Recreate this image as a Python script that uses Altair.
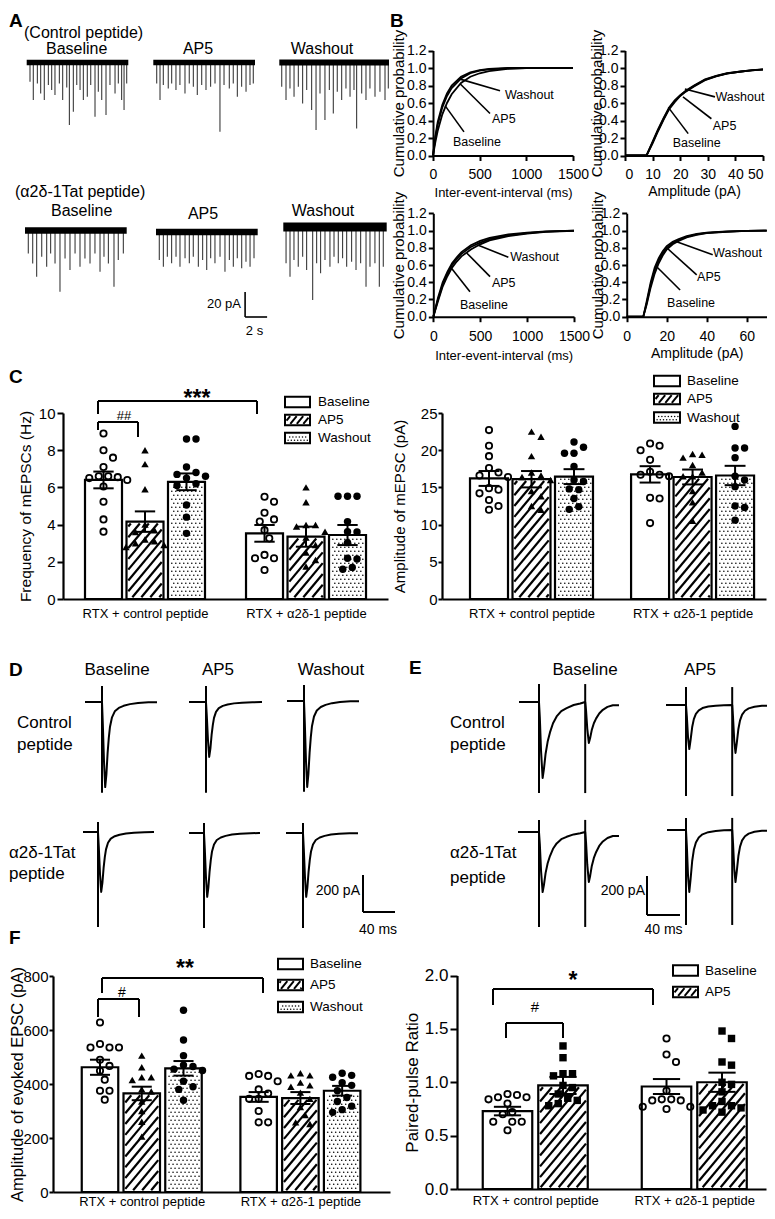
import altair as alt
import pandas as pd

# =========================== values ===========================
# ---- A: miniature EPSC events (time in s, amplitude in pA) ----
A_CTRL_BASE_T = [0.30, 0.60, 0.97, 1.27, 1.60, 1.97, 2.27, 2.57, 2.97, 3.27, 3.64, 3.88, 4.24, 4.55,
                 4.85, 5.15, 5.51, 5.82, 6.21, 6.51, 6.82, 7.21, 7.57, 8.03, 8.33, 8.63, 8.85, 9.09]
A_CTRL_BASE_A = [15.3, 30, 16.7, 24.7, 30, 18, 22, 26, 16.7, 30, 19.9, 50, 39.3, 18,
                 22, 30, 27.3, 18, 43.3, 23.3, 30, 42, 18, 24.7, 16.7, 30, 38, 16.7]
A_CTRL_AP5_T = [0.31, 0.61, 0.91, 1.36, 1.67, 2.06, 2.42, 2.88, 3.27, 3.64, 4.0, 4.4, 4.79, 5.21,
                5.61, 6.06, 6.43, 6.91, 7.27, 7.64, 8.03, 8.43, 8.79, 9.09]
A_CTRL_AP5_A = [16.7, 30, 18, 20.7, 16.7, 22, 18, 24.7, 16.7, 19.3, 26, 18, 22, 19.3,
                16.7, 55.3, 18, 20.7, 16.7, 27.3, 19.3, 23.3, 18, 16.7]
A_CTRL_WASH_T = [0.22, 0.61, 0.97, 1.34, 1.73, 2.12, 2.49, 2.94, 3.34, 3.70, 4.15, 4.55, 4.91, 5.27,
                 5.67, 6.06, 6.43, 6.79, 7.03, 7.49, 7.88, 8.24, 8.70, 9.15, 9.61, 9.91]
A_CTRL_WASH_A = [19.3, 30, 20.7, 27.3, 19.3, 32.7, 22, 38, 54, 24.7, 46, 22, 40.7, 23.3,
                 30, 20.7, 27.3, 22, 52.7, 24.7, 30, 20.7, 27.3, 23.3, 30, 20.7]
A_TAT_BASE_T = [0.30, 0.70, 1.06, 1.52, 1.97, 2.33, 2.73, 3.18, 3.64, 4.09, 4.55, 5.0, 5.45, 5.91,
                6.36, 6.82, 7.18, 7.58, 8.09, 8.48, 8.94]
A_TAT_BASE_A = [18.3, 26.3, 37, 21, 29, 18.3, 26.3, 49, 22.3, 31.6, 18.3, 29, 22.3, 26.3,
                18.3, 33, 21, 26.3, 45, 23.6, 18.3]
A_TAT_AP5_T = [0.30, 0.67, 1.03, 1.42, 1.82, 2.18, 2.64, 3.03, 3.39, 3.85, 4.24, 4.61, 4.97, 5.36,
               5.82, 6.27, 6.67, 7.03, 7.39, 7.79, 8.18, 8.55, 8.91]
A_TAT_AP5_A = [22.4, 27.7, 19.7, 25, 19.7, 27.7, 21, 25, 19.7, 27.7, 22.4, 30.4, 21, 25,
               19.7, 31.7, 22.4, 27.7, 21, 29, 23.7, 27.7, 21]
A_TAT_WASH_T = [0.25, 0.61, 0.97, 1.36, 1.76, 2.12, 2.67, 3.03, 3.39, 3.79, 4.24, 4.61, 5.0, 5.39,
                5.76, 6.21, 6.61, 7.03, 7.52, 7.88, 8.33, 8.73, 9.09]
A_TAT_WASH_A = [29, 39.7, 26.4, 31.7, 23.7, 34.4, 58.4, 29, 37, 26.4, 31.7, 23.7, 29, 25,
                31.7, 27.7, 34.4, 29, 47.7, 31.7, 29, 47.7, 31.7]
A_NOISE_PA = [2.2, 2.2, 2.4, 2.6, 2.6, 3.6]

# ---- B: cumulative probability curves ----
B1_X = [0, 25, 50, 100, 150, 200, 300, 400, 500, 600, 800, 1000, 1500]
B1_BASE = [0, 0.22, 0.38, 0.58, 0.71, 0.80, 0.90, 0.95, 0.975, 0.99, 1.0, 1.0, 1.0]
B1_AP5 = [0, 0.15, 0.28, 0.47, 0.60, 0.70, 0.83, 0.90, 0.94, 0.965, 0.99, 1.0, 1.0]
B1_WASH = [0, 0.20, 0.35, 0.55, 0.68, 0.77, 0.88, 0.94, 0.97, 0.985, 0.995, 1.0, 1.0]
B2_X = [0, 7.8, 10, 12, 14, 16, 18, 20, 22, 25, 29, 33, 37, 42, 46, 50]
B2_BASE = [0, 0, 0.16, 0.30, 0.43, 0.55, 0.63, 0.69, 0.74, 0.80, 0.87, 0.91, 0.94, 0.96, 0.975, 0.985]
B2_AP5 = [0, 0, 0.14, 0.28, 0.41, 0.53, 0.61, 0.68, 0.73, 0.79, 0.86, 0.905, 0.935, 0.958, 0.972, 0.982]
B2_WASH = [0, 0, 0.15, 0.29, 0.42, 0.54, 0.62, 0.685, 0.735, 0.795, 0.865, 0.908, 0.938, 0.96, 0.974, 0.984]
B3_X = [0, 50, 100, 150, 200, 250, 300, 400, 500, 600, 800, 1000, 1200, 1500]
B3_BASE = [0, 0.22, 0.40, 0.52, 0.62, 0.69, 0.75, 0.83, 0.88, 0.915, 0.955, 0.975, 0.99, 1.0]
B3_AP5 = [0, 0.18, 0.35, 0.47, 0.57, 0.64, 0.70, 0.78, 0.84, 0.885, 0.935, 0.965, 0.985, 0.995]
B3_WASH = [0, 0.20, 0.37, 0.50, 0.60, 0.67, 0.73, 0.81, 0.86, 0.90, 0.945, 0.97, 0.988, 0.998]
B4_X = [0, 8.3, 10, 12, 14, 16, 18, 20, 23, 26, 30, 35, 40, 50, 60, 70]
B4_BASE = [0, 0, 0.18, 0.40, 0.57, 0.68, 0.76, 0.82, 0.87, 0.90, 0.935, 0.96, 0.975, 0.99, 0.997, 1.0]
B4_AP5 = [0, 0, 0.14, 0.34, 0.50, 0.62, 0.71, 0.78, 0.84, 0.88, 0.92, 0.95, 0.97, 0.985, 0.995, 1.0]
B4_WASH = [0, 0, 0.16, 0.37, 0.54, 0.65, 0.735, 0.80, 0.855, 0.89, 0.928, 0.955, 0.972, 0.988, 0.996, 1.0]
SERIES = ["Baseline", "AP5", "Washout"]

# ---- C / F: bar charts (group x condition) ----
GROUPS = ["RTX + control peptide", "RTX + α2δ-1 peptide"]
C_FREQ_MEAN = [[6.4, 4.16, 6.3], [3.53, 3.35, 3.44]]
C_FREQ_SEM = [[0.45, 0.55, 0.45], [0.45, 0.54, 0.54]]
C_FREQ_PTS = [
    [[8.9, 8.0, 7.6, 7.1, 6.6, 6.6, 6.55, 6.5, 6.4, 6.05, 5.23, 4.28, 3.62],
     [8.0, 7.25, 5.9, 4.0, 3.7, 3.6, 3.2, 3.1, 3.0, 2.9, 2.8],
     [8.6, 8.6, 7.1, 6.8, 6.7, 6.6, 6.5, 6.2, 6.1, 5.05, 4.4, 3.53]],
    [[5.5, 5.23, 4.64, 4.28, 4.16, 3.7, 3.26, 2.37, 2.19, 2.19, 1.56],
     [6.0, 5.2, 3.98, 3.98, 3.9, 3.62, 3.3, 2.9, 2.5, 2.1, 1.75],
     [5.52, 5.52, 5.52, 4.16, 3.62, 3.6, 3.03, 2.19, 2.15, 1.7, 1.6]]]
C_AMP_MEAN = [[16.2, 16.1, 16.45], [16.75, 16.4, 16.6]]
C_AMP_SEM = [[1.0, 1.1, 1.0], [1.1, 1.0, 1.3]]
C_AMP_PTS = [
    [[22.7, 20.6, 19.2, 17.6, 17.0, 16.6, 16.4, 14.9, 14.7, 14.2, 13.3, 12.5, 12.0],
     [22.5, 21.8, 19.2, 17.0, 16.6, 16.4, 16.0, 14.5, 13.8, 12.5, 12.0],
     [21.1, 20.4, 19.6, 19.6, 17.8, 16.0, 15.8, 14.8, 14.7, 13.5, 12.4, 12.05]],
    [[20.9, 20.6, 20.0, 18.7, 17.1, 16.7, 16.7, 16.5, 13.6, 13.5, 10.2],
     [19.4, 19.5, 19.0, 18.0, 17.0, 16.5, 16.5, 14.5, 13.0, 10.5],
     [23.2, 20.3, 20.3, 19.0, 16.5, 16.0, 15.1, 12.3, 12.5, 10.6]]]
F_EPSC_MEAN = [[462, 365, 458], [352, 348, 375]]
F_EPSC_SEM = [[28, 25, 27], [18, 22, 18]]
F_EPSC_PTS = [
    [[628, 548, 535, 535, 535, 490, 467, 449, 416, 375, 375, 342],
     [505, 462, 425, 425, 415, 380, 372, 335, 300, 260, 205],
     [673, 563, 505, 470, 465, 455, 450, 410, 390, 380, 340]],
    [[437, 430, 430, 410, 380, 365, 345, 345, 300, 258, 258],
     [440, 432, 432, 405, 395, 390, 368, 345, 315, 285, 258, 252],
     [440, 432, 425, 405, 395, 375, 350, 335, 318, 305, 295]]]
F_PPR_MEAN = [[0.73, 0.97], [0.96, 1.0]]
F_PPR_SEM = [[0.04, 0.08], [0.07, 0.09]]
F_PPR_PTS = [
    [[0.89, 0.88, 0.86, 0.86, 0.84, 0.80, 0.72, 0.70, 0.63, 0.63, 0.63, 0.55],
     [1.34, 1.23, 1.08, 1.08, 1.06, 0.97, 0.95, 0.89, 0.85, 0.83, 0.80, 0.78]],
    [[1.41, 1.26, 1.19, 0.92, 0.84, 0.84, 0.83, 0.83, 0.77, 0.77, 0.75],
     [1.48, 1.41, 1.19, 1.16, 1.0, 0.98, 0.91, 0.82, 0.78, 0.78, 0.76, 0.74, 0.72]]]

# ---- D / E: evoked EPSC waveforms (normalised shapes, ms) and peak amplitudes (pA) ----
D_TPL_T = [0, 1, 2.5, 4, 5.5, 7, 8.5, 10, 12.5, 16, 21, 27, 35, 45, 58, 69]
D_TPL_V = [0, -0.25, -0.7, -1.0, -0.85, -0.6, -0.42, -0.29, -0.18, -0.11, -0.07, -0.045, -0.025, -0.012, -0.004, 0]
E_SLOW_T = [0, 1, 2.5, 4.4, 6, 8, 10.5, 13.3, 17, 21.4, 27, 33.5, 42, 50, 56]
E_SLOW_V = [0, -0.2, -0.65, -1.0, -0.88, -0.68, -0.52, -0.4, -0.28, -0.19, -0.12, -0.08, -0.04, -0.02, 0]
E_FAST_T = [0, 1, 2.5, 4, 5.5, 7.5, 9.5, 12, 15.5, 20, 27, 36, 46, 56]
E_FAST_V = [0, -0.25, -0.75, -1.0, -0.8, -0.5, -0.32, -0.2, -0.12, -0.07, -0.035, -0.015, -0.005, 0]
D_AMPS = [[460, 297, 465], [324, 345, 345]]
E_AMPS = [[[390, 210], [226, 246]], [[308, 256], [318, 267]]]
E_INTERVAL_MS = 56
D_ARTIFACT = [(86, 490), (54, 513)]
E_ARTIFACT = [(92, 467), (62, 487)]

# =========================== layout (pixels of the page) ===========================
W, H, M = 759, 1203, 8
FONT = "Liberation Sans"


def lin(d0, d1, p0, p1):
    return alt.Scale(domain=[d0, d1], range=[p0 - M, p1 - M], nice=False, zero=False)


OXS = lin(M, W + M, M, W + M)
OYS = lin(M, H + M, M, H + M)
AXB = dict(grid=False, domainColor="black", tickColor="black", labelColor="black", titleColor="black",
           labelFont=FONT, titleFont=FONT, titleFontWeight="normal", labelOverlap=False)


def OX(f):
    return alt.X(f, scale=OXS, axis=None)


def OY(f):
    return alt.Y(f, scale=OYS, axis=None)


def enc_x(f, sc, ax=None):
    # layers sharing a panel's axis leave `axis` unset so that the explicit axis is kept
    return alt.X(f, scale=sc) if ax is None else alt.X(f, scale=sc, axis=ax)


def enc_y(f, sc, ax=None):
    return alt.Y(f, scale=sc) if ax is None else alt.Y(f, scale=sc, axis=ax)


def hatch_px(x0, x1, ytop, ybot, step=9.0, slope=1.2):
    segs = []
    per = step * slope
    cmin = ytop + slope * x0
    cmax = ybot + slope * x1
    c = cmin - (cmin % per)
    while c <= cmax:
        xa = max(x0, (c - ybot) / slope)
        xb = min(x1, (c - ytop) / slope)
        if xb - xa > 0.4:
            segs.append((xa, c - slope * xa, xb, c - slope * xb))
        c += per
    return segs


def dots_px(x0, x1, ytop, ybot, step=4.0):
    pts, row = [], 0
    y = ybot - step / 2
    while y > ytop:
        x = x0 + step / 2 + (step / 2 if row % 2 else 0)
        while x < x1:
            pts.append((x, y))
            x += step
        y -= step
        row += 1
    return pts


def swarm(pys, d):
    res = [0.0] * len(pys)
    placed = []
    cands = [0.0]
    for j in range(1, 14):
        cands += [j * d / 2, -j * d / 2]
    for i in sorted(range(len(pys)), key=lambda i: pys[i]):
        y = pys[i]
        for c in cands:
            if all((c - px) ** 2 + (y - py) ** 2 >= (0.98 * d) ** 2 for px, py in placed):
                res[i] = c
                placed.append((c, y))
                break
    return res


# ---------------- A: mEPSC traces ----------------
A_EVENTS = [(A_CTRL_BASE_T, A_CTRL_BASE_A), (A_CTRL_AP5_T, A_CTRL_AP5_A), (A_CTRL_WASH_T, A_CTRL_WASH_A),
            (A_TAT_BASE_T, A_TAT_BASE_A), (A_TAT_AP5_T, A_TAT_AP5_A), (A_TAT_WASH_T, A_TAT_WASH_A)]
A_BOX = [(26.7, 128.3, 62.5), (153.3, 255.0, 62.5), (279.3, 389.0, 62.5),
         (25.0, 126.7, 230.5), (156.0, 257.7, 232.0), (283.3, 386.7, 227.0)]
A_PX_S, A_PX_PA = 11.0, 1.25
A_SCALEBAR = (4, 8.1, -68.0)


def trace_a(k):
    ts, amps = A_EVENTS[k]
    x0, x1, yb = A_BOX[k]
    dur = (x1 - x0) / A_PX_S
    xs = lin(0, dur, x0, x1)
    ys = lin(-100, 20, yb + 100 * A_PX_PA, yb - 20 * A_PX_PA)
    X = lambda f: alt.X(f, scale=xs, axis=None)
    Y = lambda f: alt.Y(f, scale=ys, axis=None)
    n = A_NOISE_PA[k]
    band = pd.DataFrame({"a": [0.0], "b": [dur], "lo": [-n], "hi": [n]})
    ev = pd.DataFrame({"t": ts, "lo": [-a for a in amps], "hi": [0.0] * len(ts)})
    layers = [
        alt.Chart(ev).mark_rule(color="#3a3a3a", strokeWidth=1.1).encode(x=X("t:Q"), y=Y("lo:Q"), y2="hi:Q"),
        alt.Chart(band).mark_rect(color="black").encode(x=X("a:Q"), x2="b:Q", y=Y("lo:Q"), y2="hi:Q"),
    ]
    if k == A_SCALEBAR[0]:
        t0, v0 = A_SCALEBAR[1], A_SCALEBAR[2]
        sb = pd.DataFrame({"x": [t0, t0], "y": [v0, v0], "x2": [t0, t0 + 2], "y2": [v0 + 20, v0]})
        layers.append(alt.Chart(sb).mark_rule(color="black", strokeWidth=1.6).encode(
            x=X("x:Q"), y=Y("y:Q"), x2="x2:Q", y2="y2:Q"))
    return alt.layer(*layers)


# ---------------- B: cumulative plots ----------------
B_YTICKS = [0.0, 0.2, 0.4, 0.6, 0.8, 1.0, 1.2]


def cdf_panel(xv, curves, xdom, xpx, ypx, xticks, xtitle, xtsize, xt_dy, yt_dx, lab_pad, leaders, flush=False):
    xs = lin(xdom[0], xdom[1], xpx[0], xpx[1])
    ys = lin(0, 1.2, ypx[0], ypx[1])
    X = lambda f, ax=None: enc_x(f, xs, ax)
    Y = lambda f, ax=None: enc_y(f, ys, ax)
    rows = [dict(x=a, y=b, s=name) for name, vals in zip(SERIES, curves) for a, b in zip(xv, vals)]
    xax = alt.Axis(orient="bottom", offset=(ypx[0] - M) - H, values=xticks, format="d", tickSize=5,
                   tickWidth=2, domainWidth=2, labelFontSize=14, labelPadding=lab_pad, title=xtitle,
                   titleFontSize=xtsize, titleY=xt_dy, titleBaseline="middle", labelFlush=flush, **AXB)
    yax = alt.Axis(orient="left", offset=-(xpx[0] - M), values=B_YTICKS, format=".1f", tickSize=5,
                   tickWidth=2, domainWidth=2, labelFontSize=14, labelPadding=2, labelFlush=False,
                   title="Cumulative probability", titleFontSize=15, titleX=yt_dx,
                   titleBaseline="middle", **AXB)
    lines = alt.Chart(pd.DataFrame(rows)).mark_line(color="black", strokeWidth=1.8).encode(
        x=X("x:Q", xax), y=Y("y:Q", yax), detail="s:N")
    ld = pd.DataFrame([dict(x=a, y=b, x2=c, y2=d) for _, a, b, c, d, _, _ in leaders])
    lt = pd.DataFrame([dict(x=e, y=f, t=n) for n, _, _, _, _, e, f in leaders])
    lead = alt.Chart(ld).mark_rule(color="black", strokeWidth=1.6).encode(
        x=X("x:Q"), y=Y("y:Q"), x2="x2:Q", y2="y2:Q")
    labs = alt.Chart(lt).mark_text(font=FONT, fontSize=12.5, align="left", baseline="middle",
                                   color="black").encode(x=X("x:Q"), y=Y("y:Q"), text="t:N")
    return alt.layer(lines, lead, labs)


# ---------------- C / F: bar charts ----------------
def marker_chart(df, m, X, Y):
    if m == "open":
        ch = alt.Chart(df).mark_point(shape="circle", filled=False, color="black", size=40,
                                      strokeWidth=1.8, opacity=1)
    elif m == "tri":
        ch = alt.Chart(df).mark_point(shape="triangle-up", filled=True, color="black", size=55, opacity=1)
    elif m == "dot":
        ch = alt.Chart(df).mark_circle(color="black", size=55, opacity=1)
    else:
        ch = alt.Chart(df).mark_square(color="black", size=55, opacity=1)
    return ch.encode(x=X("x:Q"), y=Y("y:Q"))


def bar_panel(G, means, sems, pts, fills, marks, yax_kw, xpad):
    n = len(fills)
    pitch, c1 = G["pitch"], G["c1"]
    p2s = lambda px: 1 + (px - c1) / pitch
    s2p = lambda s: c1 + (s - 1) * pitch
    kv = (G["ay0"] - G["ay1"]) / G["vmax"]
    v2p = lambda v: G["ay0"] - v * kv
    p2v = lambda py: (G["ay0"] - py) / kv
    xs = lin(p2s(G["ax0"]), p2s(G["ax1"]), G["ax0"], G["ax1"])
    ys = lin(0, G["vmax"], G["ay0"], G["ay1"])
    X = lambda f, ax=None: enc_x(f, xs, ax)
    Y = lambda f, ax=None: enc_y(f, ys, ax)
    hw = G["bw"] / 2 / pitch
    cw = 0.55 * G["bw"] / 2 / pitch
    offs = [0.0, G["g2"]]
    bars, segs, dots, errs, caps = [], [], [], [], []
    mrows = {m: [] for m in marks}
    for g in range(2):
        for k in range(n):
            c = offs[g] + k + 1
            m, s = means[g][k], sems[g][k]
            bars.append(dict(x=c - hw, x2=c + hw, y=0.0, y2=m))
            cx = s2p(c)
            inner = (cx - G["bw"] / 2 + 1.8, cx + G["bw"] / 2 - 1.8, v2p(m) + 1.8, G["ay0"] - 1.8)
            if fills[k] == "hatch":
                for xa, ya, xb, yb in hatch_px(*inner):
                    segs.append(dict(x=p2s(xa), y=p2v(ya), x2=p2s(xb), y2=p2v(yb)))
            elif fills[k] == "dots":
                for qx, qy in dots_px(*inner):
                    dots.append(dict(x=p2s(qx), y=p2v(qy)))
            errs.append(dict(x=c, y=m - s, y2=m + s))
            caps.append(dict(x=c - cw, x2=c + cw, y=m + s))
            caps.append(dict(x=c - cw, x2=c + cw, y=m - s))
            vals = pts[g][k]
            dx = swarm([v2p(v) for v in vals], 9.5)
            for v, d in zip(vals, dx):
                mrows[marks[k]].append(dict(x=c + d / pitch, y=v))
    centers = [offs[0] + (n + 1) / 2, offs[1] + (n + 1) / 2]
    thr = sum(centers) / 2
    xax = alt.Axis(orient="bottom", offset=(G["ay0"] - M) - H, values=centers,
                   labelExpr=f"datum.value < {thr} ? '{GROUPS[0]}' : '{GROUPS[1]}'",
                   ticks=False, tickSize=0, domainWidth=2.2, labelFontSize=13, labelPadding=xpad,
                   labelFlush=False, title=None, **AXB)
    yax = alt.Axis(orient="left", offset=-(G["ax0"] - M), tickWidth=2, domainWidth=2.2,
                   titleBaseline="middle", labelFlush=False, **yax_kw, **AXB)
    layers = [alt.Chart(pd.DataFrame(bars)).mark_rect(fill="white", stroke="black", strokeWidth=2.2).encode(
        x=X("x:Q", xax), x2="x2:Q", y=Y("y:Q", yax), y2="y2:Q")]
    if segs:
        layers.append(alt.Chart(pd.DataFrame(segs)).mark_rule(color="black", strokeWidth=2.2).encode(
            x=X("x:Q"), y=Y("y:Q"), x2="x2:Q", y2="y2:Q"))
    if dots:
        layers.append(alt.Chart(pd.DataFrame(dots)).mark_circle(color="black", size=2.5, opacity=1).encode(
            x=X("x:Q"), y=Y("y:Q")))
    layers.append(alt.Chart(pd.DataFrame(errs)).mark_rule(color="black", strokeWidth=2).encode(
        x=X("x:Q"), y=Y("y:Q"), y2="y2:Q"))
    layers.append(alt.Chart(pd.DataFrame(caps)).mark_rule(color="black", strokeWidth=2).encode(
        x=X("x:Q"), x2="x2:Q", y=Y("y:Q")))
    for mk, rows in mrows.items():
        layers.append(marker_chart(pd.DataFrame(rows), mk, X, Y))
    return alt.layer(*layers)


C_L = dict(ax0=63, ax1=388, ay0=599, ay1=413, vmax=10, c1=103.5, pitch=41.5, g2=3.88, bw=37)
C_R = dict(ax0=442, ax1=766, ay0=599, ay1=413, vmax=25, c1=489, pitch=42.5, g2=3.79, bw=38)
F_L = dict(ax0=53, ax1=390, ay0=1192, ay1=976, vmax=800, c1=100, pitch=41.75, g2=3.8, bw=36.5)
F_R = dict(ax0=457, ax1=766, ay0=1189, ay1=975.5, vmax=2.0, c1=507.5, pitch=55.5, g2=2.865, bw=49.5)


# ---------------- D / E: evoked traces ----------------
def evoked(layout, kx, ky, tpl, amps, interval, art, scalebar=None):
    start, stim, end, base = layout
    tpl_t, tpl_v = tpl
    xs = lin(-100, 200, stim - 100 * kx, stim + 200 * kx)
    ys = lin(-800, 200, base + 800 * ky, base - 200 * ky)
    X = lambda f: alt.X(f, scale=xs, axis=None)
    Y = lambda f: alt.Y(f, scale=ys, axis=None)
    pre, post = (stim - start) / kx, (end - stim) / kx
    tt, vv = [-pre, 0.0], [0.0, 0.0]
    for i, a in enumerate(amps):
        s0 = i * interval
        for t, f in zip(tpl_t, tpl_v):
            if s0 + t > post or (i + 1 < len(amps) and t > interval):
                break
            tt.append(s0 + t)
            vv.append(a * f)
    if tt[-1] < post:
        tt.append(post)
        vv.append(vv[-1])
    df = pd.DataFrame({"t": tt, "v": vv, "o": list(range(len(tt)))})
    arts = pd.DataFrame({"t": [i * interval for i in range(len(amps))],
                         "hi": [art[0]] * len(amps), "lo": [-art[1]] * len(amps)})
    layers = [
        alt.Chart(arts).mark_rule(color="black", strokeWidth=2).encode(x=X("t:Q"), y=Y("lo:Q"), y2="hi:Q"),
        alt.Chart(df).mark_line(color="black", strokeWidth=2, strokeJoin="round").encode(
            x=X("t:Q"), y=Y("v:Q"), order="o:Q"),
    ]
    if scalebar is not None:
        t0, v0 = scalebar
        sb = pd.DataFrame({"x": [t0, t0], "y": [v0, v0], "x2": [t0, t0 + 40], "y2": [v0 + 200, v0]})
        layers.append(alt.Chart(sb).mark_rule(color="black", strokeWidth=2).encode(
            x=X("x:Q"), y=Y("y:Q"), x2="x2:Q", y2="y2:Q"))
    return alt.layer(*layers)


D_LAYOUT = [[(85, 102, 157, 702), (189, 206, 262, 702), (287, 304, 359, 701)],
            [(83, 98, 154, 832), (189, 204, 260, 833), (286, 303, 358, 833)]]
E_LAYOUT = [[(519, 539, 619, 702), (666, 686, 767, 705)],
            [(518, 539, 619, 832), (667, 686, 767, 830)]]
D_KX, D_KY = 0.8, 0.185
E_KX, E_KY = 0.825, 0.195

# ---------------- overlay (labels, legends, brackets) ----------------
ov = []


def add_text(items, size, align="left", weight="normal", baseline="alphabetic"):
    df = pd.DataFrame(items, columns=["x", "y", "t"])
    ov.append(alt.Chart(df).mark_text(font=FONT, fontSize=size, align=align, baseline=baseline,
                                      fontWeight=weight, color="black").encode(
        x=OX("x:Q"), y=OY("y:Q"), text="t:N"))


add_text([(9, 27, "A"), (390, 27, "B"), (9, 383, "C"), (9, 676, "D"), (409, 674, "E"), (9, 944, "F")],
         19, weight="bold")
add_text([(24, 38, "(Control peptide)"), (15, 197, "(α2δ-1Tat peptide)")], 16)
add_text([(76.7, 54, "Baseline"), (198, 54, "AP5"), (322, 54, "Washout"),
          (81.7, 216, "Baseline"), (203, 219, "AP5"), (323, 216, "Washout")], 16, align="center")
add_text([(241, 308, "20 pA")], 13, align="right")
add_text([(254.5, 335, "2 s")], 13, align="center")
add_text([(117, 675, "Baseline"), (218, 675, "AP5"), (331, 675, "Washout"),
          (585, 675, "Baseline"), (700, 675, "AP5")], 17, align="center")
add_text([(17, 728, "Control"), (17, 750, "peptide"), (9, 858, "α2δ-1Tat"), (9, 879, "peptide"),
          (450, 728, "Control"), (450, 750, "peptide"), (450, 858, "α2δ-1Tat"), (450, 883, "peptide")], 17)
add_text([(360, 895, "200 pA"), (645, 895, "200 pA")], 14, align="right")
add_text([(378, 934, "40 ms"), (663.5, 934, "40 ms")], 14, align="center")

LEGENDS = [  # (box x0, box x1, y centres, text x, fills)
    (285, 310, [402, 420, 438], 318, ["white", "hatch", "dots"]),
    (654, 680, [381, 399, 417.5], 687, ["white", "hatch", "dots"]),
    (278, 303, [964, 985, 1007], 310, ["white", "hatch", "dots"]),
    (673, 698, [970.5, 992], 705, ["white", "hatch"]),
]
BRACKETS = [(98, 257, 401, 414, 414), (98, 138, 422, 430, 437), (102, 263, 978, 993, 993),
            (98, 139, 999, 1017, 1017), (493, 653, 989, 1005, 1005), (506, 563, 1023, 1038, 1038)]
STARS = [("***", 197, 393), ("**", 185, 963), ("*", 573, 975)]
HASHES = [("##", 124, 416, 13), ("#", 122, 993, 14), ("#", 535, 1007, 15)]

boxes, orules, odots, ltxt = [], [], [], []
for x0, x1, ycs, tx, fills in LEGENDS:
    for yc, fl, lab in zip(ycs, fills, SERIES):
        boxes.append(dict(x=x0, x2=x1, y=yc - 5.3, y2=yc + 5.3))
        inner = (x0 + 1.5, x1 - 1.5, yc - 5.3 + 1.5, yc + 5.3 - 1.5)
        if fl == "hatch":
            for xa, ya, xb, yb in hatch_px(*inner, step=6.5):
                orules.append(dict(x=xa, y=ya, x2=xb, y2=yb))
        elif fl == "dots":
            for qx, qy in dots_px(*inner, step=3.2):
                odots.append(dict(x=qx, y=qy))
        ltxt.append((tx, yc, lab))
for xa, xb, yt, ya, yb in BRACKETS:
    orules += [dict(x=xa, y=yt, x2=xb, y2=yt), dict(x=xa, y=yt, x2=xa, y2=ya), dict(x=xb, y=yt, x2=xb, y2=yb)]

ov.append(alt.Chart(pd.DataFrame(boxes)).mark_rect(fill="white", stroke="black", strokeWidth=2).encode(
    x=OX("x:Q"), x2="x2:Q", y=OY("y:Q"), y2="y2:Q"))
ov.append(alt.Chart(pd.DataFrame(orules)).mark_rule(color="black", strokeWidth=2).encode(
    x=OX("x:Q"), y=OY("y:Q"), x2="x2:Q", y2="y2:Q"))
ov.append(alt.Chart(pd.DataFrame(odots)).mark_circle(color="black", size=2.2, opacity=1).encode(
    x=OX("x:Q"), y=OY("y:Q")))
add_text(ltxt, 13.5, baseline="middle")
add_text([(x, y + 0.28 * 23, t) for t, x, y in STARS], 23, align="center", weight="bold", baseline="middle")
for t, x, y, sz in HASHES:
    add_text([(x, y, t)], sz, align="center", baseline="middle")

overlay = alt.layer(*ov)

# ---------------- assemble ----------------
panels = [overlay]
panels += [trace_a(k) for k in range(6)]
panels += [
    cdf_panel(B1_X, [B1_BASE, B1_AP5, B1_WASH], (0, 1500), (433, 573), (155.5, 50.5), [0, 500, 1000, 1500],
              "Inter-event-interval (ms)", 13, 36.5, -35, 6.5,
              [("Washout", 300, 0.87, 718, 0.74, 771, 0.69), ("AP5", 290, 0.82, 611, 0.48, 632, 0.42),
               ("Baseline", 129, 0.57, 332, 0.27, 214, 0.15)]),
    cdf_panel(B2_X, [B2_BASE, B2_AP5, B2_WASH], (0, 50), (625, 763), (155.5, 50.5), [0, 10, 20, 30, 40, 50],
              "Amplitude (pA)", 14, 36.2, -29, 6.5,
              [("Washout", 21.7, 0.76, 32.6, 0.67, 32.8, 0.67), ("AP5", 21.0, 0.67, 31.3, 0.42, 31.8, 0.34),
               ("Baseline", 15.7, 0.55, 22.9, 0.25, 17.3, 0.14)], flush=True),
    cdf_panel(B3_X, [B3_BASE, B3_AP5, B3_WASH], (0, 1500), (433.3, 574), (316.7, 213.3), [0, 500, 1000, 1500],
              "Inter-event-interval (ms)", 13, 38.3, -35, 8,
              [("Washout", 480, 0.83, 800, 0.69, 820, 0.69), ("AP5", 356, 0.74, 605, 0.465, 625, 0.39),
               ("Baseline", 196, 0.56, 391, 0.29, 285, 0.135)]),
    cdf_panel(B4_X, [B4_BASE, B4_AP5, B4_WASH], (0, 70), (626.7, 766.7), (316.7, 213.3), [0, 20, 40, 60],
              "Amplitude (pA)", 14, 36.3, -29.5, 8,
              [("Washout", 25, 0.87, 43, 0.72, 43.2, 0.74), ("AP5", 20, 0.80, 35, 0.485, 35.2, 0.465),
               ("Baseline", 15, 0.58, 26.7, 0.31, 20.2, 0.16)]),
]
panels += [
    bar_panel(C_L, C_FREQ_MEAN, C_FREQ_SEM, C_FREQ_PTS, ["white", "hatch", "dots"], ["open", "tri", "dot"],
              dict(values=[0, 2, 4, 6, 8, 10], format="d", labelFontSize=15, tickSize=6, labelPadding=2,
                   title="Frequency of mEPSCs (Hz)", titleFontSize=15.5, titleX=-37.5), 8),
    bar_panel(C_R, C_AMP_MEAN, C_AMP_SEM, C_AMP_PTS, ["white", "hatch", "dots"], ["open", "tri", "dot"],
              dict(values=[0, 5, 10, 15, 20, 25], format="d", labelFontSize=15, tickSize=4, labelPadding=1,
                   title="Amplitude of mEPSC (pA)", titleFontSize=15, titleX=-43), 8),
    bar_panel(F_L, F_EPSC_MEAN, F_EPSC_SEM, F_EPSC_PTS, ["white", "hatch", "dots"], ["open", "tri", "dot"],
              dict(values=[0, 200, 400, 600, 800], format="d", labelFontSize=15, tickSize=4, labelPadding=1,
                   title="Amplitude of evoked EPSC (pA)", titleFontSize=16.5, titleX=-36), 3),
    bar_panel(F_R, F_PPR_MEAN, F_PPR_SEM, F_PPR_PTS, ["white", "hatch"], ["open", "sq"],
              dict(values=[0, 0.5, 1.0, 1.5, 2.0], format=".1f", labelFontSize=17, tickSize=7, labelPadding=2,
                   title="Paired-pulse Ratio", titleFontSize=17, titleX=-44.5), 5),
]
D_SCALEBAR = (75.0, -427.0)
for r in range(2):
    for k in range(3):
        panels.append(evoked(D_LAYOUT[r][k], D_KX, D_KY, (D_TPL_T, D_TPL_V), [D_AMPS[r][k]], E_INTERVAL_MS,
                             D_ARTIFACT[r], D_SCALEBAR if (r, k) == (1, 2) else None))
E_TPL = [[(E_SLOW_T, E_SLOW_V), (E_FAST_T, E_FAST_V)], [(E_SLOW_T, E_SLOW_V), (E_FAST_T, E_FAST_V)]]
E_SCALEBAR = (130.9, -425.6)
for r in range(2):
    for k in range(2):
        panels.append(evoked(E_LAYOUT[r][k], E_KX, E_KY, E_TPL[r][k], E_AMPS[r][k], E_INTERVAL_MS,
                             E_ARTIFACT[r], E_SCALEBAR if (r, k) == (1, 0) else None))

chart = alt.layer(*panels).resolve_scale(x="independent", y="independent").properties(
    width=W, height=H, padding=0, autosize=alt.AutoSizeParams(type="none"), background="white"
).configure_view(strokeOpacity=0)

chart.save("out.html", embed_options={"renderer": "svg", "actions": False})
